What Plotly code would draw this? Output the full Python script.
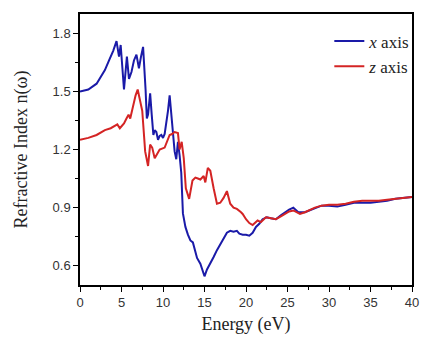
import plotly.graph_objects as go

# Blue curve: x axis
energy_x = [0, 1, 2, 3, 3.5, 4.0, 4.4, 4.7, 4.9, 5.1, 5.3, 5.65, 5.9, 6.2, 6.5, 6.8, 7.1, 7.35, 7.6,
            7.9, 8.05, 8.2, 8.45, 8.64, 8.84, 9.0, 9.2, 9.4, 9.6, 9.8, 10.0, 10.2, 10.4, 10.6, 10.8,
            11.1, 11.4, 11.6, 11.8, 12.0, 12.2, 12.4, 12.7, 13.0, 13.3, 13.6, 13.8, 14.1, 14.5, 15.0,
            15.3, 15.7, 16.1, 16.5, 16.9, 17.3, 17.7, 18.1, 18.5, 18.9, 19.2, 19.6, 20.0, 20.4, 20.8,
            21.2, 21.6, 22.0, 22.5, 23.0, 23.6, 24.2, 24.7, 25.2, 25.7, 26.3, 27.1, 28.3, 29.1, 30,
            31, 32, 33, 34, 35, 36, 37, 38, 39, 40]
n_x = [1.50, 1.51, 1.54, 1.61, 1.66, 1.71, 1.76, 1.68, 1.74, 1.62, 1.51, 1.68, 1.565, 1.60, 1.66, 1.69,
       1.62, 1.68, 1.73, 1.51, 1.36, 1.38, 1.49, 1.38, 1.275, 1.30, 1.29, 1.25, 1.27, 1.275, 1.26, 1.28,
       1.33, 1.40, 1.48, 1.31, 1.19, 1.15, 1.24, 1.17, 1.08, 0.87, 0.80, 0.76, 0.73, 0.72, 0.69, 0.64,
       0.61, 0.545, 0.58, 0.61, 0.645, 0.68, 0.71, 0.74, 0.77, 0.78, 0.775, 0.78, 0.765, 0.76, 0.76,
       0.755, 0.77, 0.80, 0.816, 0.84, 0.85, 0.845, 0.84, 0.86, 0.876, 0.89, 0.90, 0.876, 0.876, 0.898,
       0.91, 0.91, 0.905, 0.915, 0.925, 0.925, 0.925, 0.93, 0.935, 0.945, 0.95, 0.955]

# Red curve: z axis
energy_z = [0, 1, 2, 3, 3.7, 4.5, 4.8, 5.3, 5.6, 5.85, 6.05, 6.4, 6.7, 6.95, 7.2, 7.5, 7.85, 8.2, 8.45,
            8.7, 9.0, 9.3, 9.6, 10.2, 10.5, 10.8, 11.1, 11.4, 11.8, 12.0, 12.25, 12.5, 12.75, 13.15,
            13.55, 13.9, 14.2, 14.5, 14.9, 15.1, 15.4, 15.7, 16.1, 16.5, 16.9, 17.3, 17.7, 18.1, 18.5,
            18.9, 19.4, 19.6, 20.0, 20.4, 20.8, 21.4, 21.8, 22.4, 23.0, 23.6, 24.2, 24.7, 25.2, 25.7,
            26.5, 27.1, 28.3, 29.1, 30, 31, 32, 33, 34, 35, 36, 37, 38, 39, 40]
n_z = [1.25, 1.26, 1.275, 1.30, 1.31, 1.33, 1.31, 1.335, 1.36, 1.38, 1.36, 1.43, 1.48, 1.51, 1.46, 1.40,
       1.19, 1.115, 1.225, 1.21, 1.155, 1.175, 1.20, 1.21, 1.24, 1.275, 1.28, 1.29, 1.285, 1.2, 1.24,
       1.155, 1.0, 0.945, 1.04, 1.055, 1.05, 1.045, 1.063, 1.03, 1.105, 1.09, 1.0, 0.92, 0.925, 0.95,
       0.985, 0.92, 0.90, 0.893, 0.876, 0.867, 0.84, 0.82, 0.81, 0.833, 0.825, 0.85, 0.845, 0.84, 0.855,
       0.867, 0.88, 0.885, 0.867, 0.876, 0.90, 0.91, 0.915, 0.915, 0.92, 0.93, 0.935, 0.935, 0.935,
       0.94, 0.945, 0.95, 0.955]

x_ticks = [0, 5, 10, 15, 20, 25, 30, 35, 40]
y_ticks = [0.6, 0.9, 1.2, 1.5, 1.8]

SERIF = "Liberation Serif"

fig = go.Figure()
fig.add_trace(go.Scatter(x=energy_x, y=n_x, mode="lines", name="<i>x</i> axis",
                         line=dict(color="#1a1aa8", width=2)))
fig.add_trace(go.Scatter(x=energy_z, y=n_z, mode="lines", name="<i>z</i> axis",
                         line=dict(color="#d42424", width=2)))

axis_common = dict(showline=True, linecolor="black", linewidth=1.5, mirror=True,
                   ticks="outside", ticklen=5, tickwidth=1.2, tickcolor="black",
                   showgrid=False, zeroline=False,
                   tickfont=dict(family="Liberation Sans, Arial", size=13, color="#333333"))

fig.update_xaxes(range=[0, 40], tickvals=x_ticks, ticktext=[str(v) for v in x_ticks],
                 minor=dict(dtick=2.5, tick0=0, ticks="outside", ticklen=3, tickcolor="black"),
                 title=dict(text="Energy (eV)", font=dict(family=SERIF, size=18, color="#222222"),
                            standoff=8),
                 **axis_common)
fig.update_yaxes(range=[0.5, 1.9], tickvals=y_ticks, ticktext=[f"{v:.1f}" for v in y_ticks],
                 minor=dict(dtick=0.15, tick0=0.6, ticks="outside", ticklen=3, tickcolor="black"),
                 title=dict(text="Refractive Index n(ω)",
                            font=dict(family=SERIF, size=18, color="#222222"),
                            standoff=20),
                 **axis_common)

fig.update_layout(width=429, height=341, margin=dict(l=80, r=10, t=14, b=53),
                  paper_bgcolor="white", plot_bgcolor="white",
                  legend=dict(x=1.01, y=0.965, xanchor="right", yanchor="top",
                              bgcolor="rgba(0,0,0,0)",
                              font=dict(family=SERIF, size=17, color="#222222"),
                              tracegroupgap=2))

fig.write_html("out.html")
